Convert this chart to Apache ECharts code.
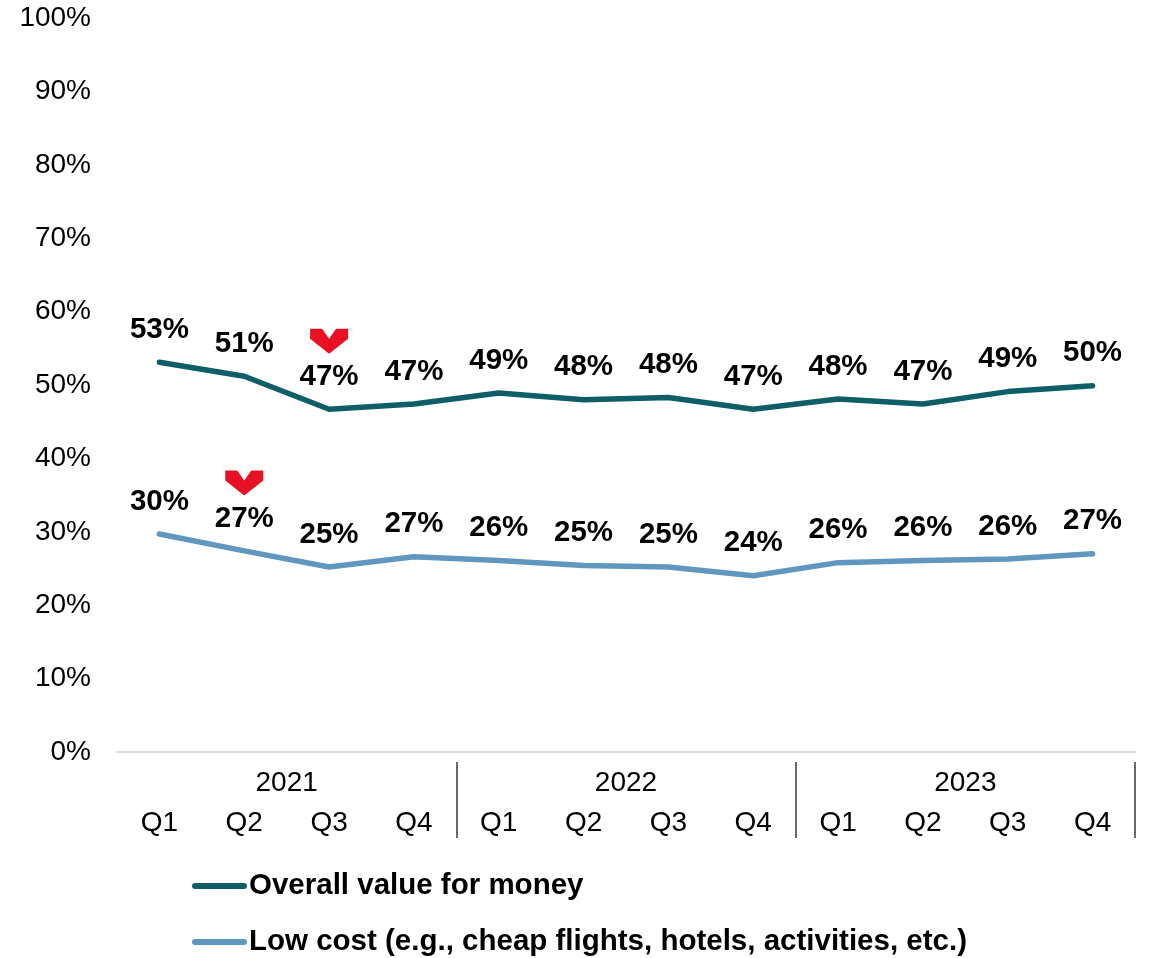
<!DOCTYPE html>
<html>
<head>
<meta charset="utf-8">
<script src="https://cdn.jsdelivr.net/npm/echarts@6/dist/echarts.min.js"></script>
<style>
  html, body { margin: 0; padding: 0; background: #fff; }
  #chart { width: 1153px; height: 958px; }
</style>
</head>
<body>
<div id="chart"></div>
<script>
// Quarterly share of respondents (%) citing each factor
const quarters = ['Q1', 'Q2', 'Q3', 'Q4', 'Q1', 'Q2', 'Q3', 'Q4', 'Q1', 'Q2', 'Q3', 'Q4'];
const years = ['2021', '2022', '2023'];
const overallValue = [53.1, 51.2, 46.7, 47.4, 48.9, 48.0, 48.3, 46.7, 48.1, 47.4, 49.1, 49.9];
const lowCost = [29.7, 27.4, 25.2, 26.6, 26.1, 25.4, 25.2, 24.0, 25.8, 26.1, 26.3, 27.0];
const yTicks = [0, 10, 20, 30, 40, 50, 60, 70, 80, 90, 100];

// Quarters flagged with a significant drop
const overallDrops = [2];
const lowCostDrops = [1];

const SERIES_NAMES = ['Overall value for money', 'Low cost (e.g., cheap flights, hotels, activities, etc.)'];

const FONT = "'Liberation Sans', Arial, sans-serif";
const DARK = '#0e5e68';
const LIGHT = '#6097be';
const RED = '#e81123';
const CHEVRON = 'path://M0,0 L12,0 L19,10 L26,0 L38,0 L38,10 L19,25 L0,10 Z';
const LEGEND_ICON = 'path://M3,0 L52,0 A3,3 0 0 1 52,6 L3,6 A3,3 0 0 1 3,0 Z';

function dropMarks(values, idxs) {
  return idxs.map(i => ({ coord: [i, values[i]] }));
}

function lineSeries(name, values, color, drops) {
  return {
    name: name,
    type: 'line',
    data: values,
    xAxisIndex: 0,
    symbol: 'circle',
    symbolSize: 1,
    showSymbol: true,
    itemStyle: { color: color },
    lineStyle: { color: color, width: 5.5, cap: 'round', join: 'round' },
    label: {
      show: true,
      position: 'top',
      distance: 17,
      formatter: p => Math.round(p.value) + '%',
      fontFamily: FONT,
      fontSize: 29.5,
      fontWeight: 'bold',
      color: '#000'
    },
    markPoint: {
      symbol: CHEVRON,
      symbolSize: [38, 25],
      symbolKeepAspect: false,
      symbolOffset: [0, -68],
      itemStyle: { color: RED },
      label: { show: false },
      silent: true,
      data: dropMarks(values, drops)
    },
    z: 3
  };
}

function legendItem(name, top) {
  return {
    orient: 'horizontal',
    left: 192,
    top: top,
    padding: 0,
    itemWidth: 55,
    itemHeight: 6,
    icon: LEGEND_ICON,
    textStyle: { fontFamily: FONT, fontSize: 29.5, fontWeight: 'bold', color: '#000', padding: [0, 0, 0, -3] },
    data: [name]
  };
}

const chart = echarts.init(document.getElementById('chart'), null, { renderer: 'canvas' });

chart.setOption({
  animation: false,
  backgroundColor: '#fff',
  textStyle: { fontFamily: FONT },
  grid: { left: 117, right: 18, top: 18, bottom: 206, containLabel: false },
  legend: [
    legendItem(SERIES_NAMES[0], 871),
    legendItem(SERIES_NAMES[1], 927)
  ],
  xAxis: [
    {
      type: 'category',
      data: quarters,
      boundaryGap: true,
      axisLine: { show: true, lineStyle: { color: '#d9d9d9', width: 2 } },
      axisTick: { show: false },
      axisLabel: { interval: 0, margin: 57, fontFamily: FONT, fontSize: 28, color: '#000' },
      splitLine: { show: false }
    },
    {
      type: 'category',
      data: years,
      position: 'bottom',
      offset: 10,
      boundaryGap: true,
      axisLine: { show: false },
      axisTick: {
        show: true,
        length: 76,
        interval: (i) => i > 0,
        lineStyle: { color: '#3a3a3a', width: 1.5 }
      },
      axisLabel: { interval: 0, margin: 7, fontFamily: FONT, fontSize: 28, color: '#000' },
      splitLine: { show: false }
    }
  ],
  yAxis: {
    type: 'value',
    min: yTicks[0],
    max: yTicks[yTicks.length - 1],
    interval: yTicks[1] - yTicks[0],
    axisLine: { show: false },
    axisTick: { show: false },
    splitLine: { show: false },
    axisLabel: { formatter: '{value}%', margin: 26, fontFamily: FONT, fontSize: 28, color: '#000' }
  },
  series: [
    lineSeries(SERIES_NAMES[0], overallValue, DARK, overallDrops),
    lineSeries(SERIES_NAMES[1], lowCost, LIGHT, lowCostDrops)
  ]
});
</script>
</body>
</html>
